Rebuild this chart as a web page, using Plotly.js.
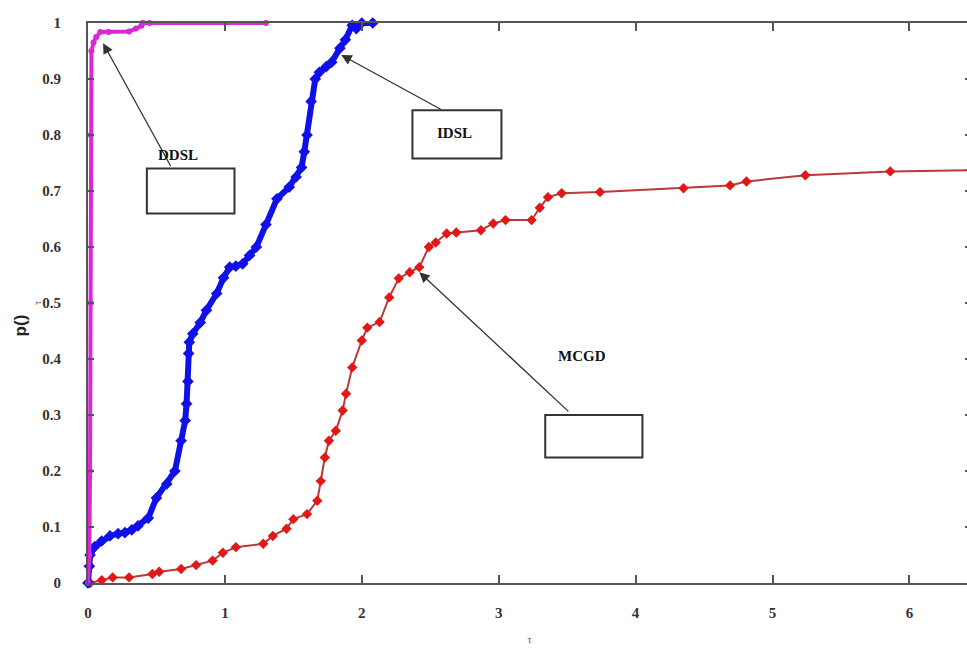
<!DOCTYPE html>
<html>
<head>
<meta charset="utf-8">
<script src="https://cdn.plot.ly/plotly-3.0.1.min.js"></script>
<style>
html,body{margin:0;padding:0;background:#fff;overflow:hidden;width:967px;height:648px;}
#chart{width:971px;height:648px;}
</style>
</head>
<body>
<div id="chart"></div>
<script>
// DDSL (magenta)
const ddslX = [0, 0.01, 0.015, 0.02, 0.02, 0.025, 0.04, 0.06, 0.09, 0.15, 0.3, 0.35, 0.39, 0.4, 0.45, 1.3];
const ddslY = [0, 0.05, 0.2, 0.5, 0.8, 0.95, 0.965, 0.975, 0.984, 0.984, 0.985, 0.99, 0.995, 1.0, 1.0, 1.0];

// IDSL (blue)
const idslX = [0, 0.01, 0.015, 0.05, 0.1, 0.16, 0.22, 0.27, 0.32, 0.365, 0.44, 0.5, 0.575, 0.635, 0.68, 0.71, 0.72, 0.73, 0.735, 0.74, 0.765, 0.82, 0.865, 0.94, 0.99, 1.035, 1.08, 1.13, 1.18, 1.23, 1.3, 1.38, 1.47, 1.52, 1.56, 1.58, 1.6, 1.63, 1.66, 1.69, 1.74, 1.78, 1.84, 1.88, 1.93, 1.96, 2.0, 2.08];
const idslY = [0, 0.03, 0.05, 0.065, 0.075, 0.084, 0.088, 0.09, 0.095, 0.102, 0.116, 0.152, 0.177, 0.2, 0.254, 0.29, 0.32, 0.36, 0.41, 0.43, 0.445, 0.465, 0.487, 0.517, 0.545, 0.564, 0.566, 0.57, 0.585, 0.6, 0.64, 0.686, 0.707, 0.725, 0.742, 0.77, 0.8, 0.86, 0.9, 0.912, 0.922, 0.93, 0.955, 0.97, 0.996, 0.99, 1.0, 1.0];

// MCGD (red)
const mcgdX = [0, 0.015, 0.1, 0.18, 0.3, 0.47, 0.52, 0.68, 0.79, 0.91, 0.985, 1.08, 1.28, 1.35, 1.45, 1.5, 1.6, 1.675, 1.7, 1.73, 1.76, 1.81, 1.86, 1.885, 1.93, 2.0, 2.04, 2.13, 2.2, 2.27, 2.35, 2.42, 2.49, 2.54, 2.62, 2.69, 2.87, 2.96, 3.05, 3.24, 3.3, 3.36, 3.46, 3.74, 4.35, 4.69, 4.81, 5.24, 5.86, 6.45];
const mcgdY = [0, 0, 0.005, 0.01, 0.01, 0.016, 0.02, 0.025, 0.032, 0.04, 0.054, 0.064, 0.07, 0.084, 0.097, 0.114, 0.123, 0.147, 0.182, 0.224, 0.254, 0.272, 0.308, 0.338, 0.385, 0.433, 0.456, 0.466, 0.51, 0.544, 0.555, 0.564, 0.6, 0.608, 0.624, 0.626, 0.63, 0.642, 0.648, 0.648, 0.67, 0.689, 0.696, 0.698, 0.705, 0.71, 0.717, 0.728, 0.735, 0.737];

const yTicks = [0, 0.1, 0.2, 0.3, 0.4, 0.5, 0.6, 0.7, 0.8, 0.9, 1];
const yTickText = ['0', '0.1', '0.2', '0.3', '0.4', '0.5', '0.6', '0.7', '0.8', '0.9', '1'];
const xTicks = [0, 1, 2, 3, 4, 5, 6];

const serif = 'Liberation Serif, Times New Roman, serif';

const traces = [
  {x: mcgdX, y: mcgdY, mode: 'lines+markers', name: 'MCGD', cliponaxis: false,
   line: {color: '#b83a3a', width: 2},
   marker: {symbol: 'diamond', size: 8, color: '#e01818'}},
  {x: idslX, y: idslY, mode: 'lines+markers', name: 'IDSL', cliponaxis: false,
   line: {color: '#1010e8', width: 6},
   marker: {symbol: 'diamond', size: 9, color: '#1010e8'}},
  {x: ddslX, y: ddslY, mode: 'lines+markers', name: 'DDSL', cliponaxis: false,
   line: {color: '#d828d8', width: 4},
   marker: {symbol: 'circle', size: 6, color: '#d828d8'}}
];

const boxLine = {color: '#333', width: 2};
const layout = {
  width: 971, height: 648,
  margin: {l: 88, r: 0, t: 23, b: 65},
  paper_bgcolor: '#fff', plot_bgcolor: '#fff',
  showlegend: false,
  xaxis: {
    range: [0, 6.45], tickvals: xTicks, ticktext: xTicks.map(String),
    showgrid: false, zeroline: false, showline: true, mirror: 'ticks',
    linecolor: '#555', linewidth: 2, ticks: 'inside', ticklen: 8, tickwidth: 2, tickcolor: '#555',
    ticklabelstandoff: 15,
    tickfont: {family: serif, size: 15, color: '#333', weight: 'bold'},
    title: {text: 'τ', font: {family: serif, size: 10, color: '#555'}, standoff: 16}
  },
  yaxis: {
    range: [0, 1], tickvals: yTicks, ticktext: yTickText,
    showgrid: false, zeroline: false, showline: true, mirror: 'ticks',
    linecolor: '#555', linewidth: 2, ticks: 'inside', ticklen: 6, tickwidth: 2, tickcolor: '#555',
    ticklabelstandoff: 22,
    tickfont: {family: serif, size: 15, color: '#333', weight: 'bold'},
    title: {text: ''}
  },
  shapes: [
    {type: 'rect', xref: 'x', yref: 'y', x0: 0.43, x1: 1.07, y0: 0.66, y1: 0.74, line: boxLine, fillcolor: 'rgba(0,0,0,0)'},
    {type: 'rect', xref: 'x', yref: 'y', x0: 2.37, x1: 3.02, y0: 0.758, y1: 0.844, line: boxLine, fillcolor: 'rgba(0,0,0,0)'},
    {type: 'rect', xref: 'x', yref: 'y', x0: 3.34, x1: 4.05, y0: 0.224, y1: 0.3, line: boxLine, fillcolor: 'rgba(0,0,0,0)'}
  ],
  annotations: [
    {xref: 'x', yref: 'y', x: 0.11, y: 0.964, ax: 0.61, ay: 0.742, axref: 'x', ayref: 'y',
     showarrow: true, arrowhead: 2, arrowsize: 1.6, arrowwidth: 1.3, arrowcolor: '#333', text: ''},
    {xref: 'x', yref: 'y', x: 1.85, y: 0.943, ax: 2.59, ay: 0.844, axref: 'x', ayref: 'y',
     showarrow: true, arrowhead: 2, arrowsize: 1.6, arrowwidth: 1.3, arrowcolor: '#333', text: ''},
    {xref: 'x', yref: 'y', x: 2.42, y: 0.555, ax: 3.52, ay: 0.304, axref: 'x', ayref: 'y',
     showarrow: true, arrowhead: 2, arrowsize: 1.6, arrowwidth: 1.3, arrowcolor: '#333', text: ''},
    {xref: 'x', yref: 'y', x: 0.66, y: 0.764, showarrow: false, text: 'DDSL',
     font: {family: serif, size: 15, color: '#111', weight: 'bold'}},
    {xref: 'x', yref: 'y', x: 2.68, y: 0.803, showarrow: false, text: 'IDSL',
     font: {family: serif, size: 15, color: '#111', weight: 'bold'}},
    {xref: 'x', yref: 'y', x: 3.61, y: 0.406, showarrow: false, text: 'MCGD',
     font: {family: serif, size: 15, color: '#111', weight: 'bold'}},
    {xref: 'paper', yref: 'paper', x: -0.077, y: 0.46, xanchor: 'center', yanchor: 'middle',
     showarrow: false, text: 'p()', textangle: -90,
     font: {family: 'Liberation Sans, Arial, sans-serif', size: 17, color: '#222', weight: 'bold'}},
    {xref: 'paper', yref: 'paper', x: -0.058, y: 0.5, xanchor: 'center', yanchor: 'middle',
     showarrow: false, text: 'τ', textangle: -90,
     font: {family: serif, size: 10, color: '#555'}}
  ]
};

Plotly.newPlot('chart', traces, layout, {displayModeBar: false, staticPlot: true});
</script>
</body>
</html>
